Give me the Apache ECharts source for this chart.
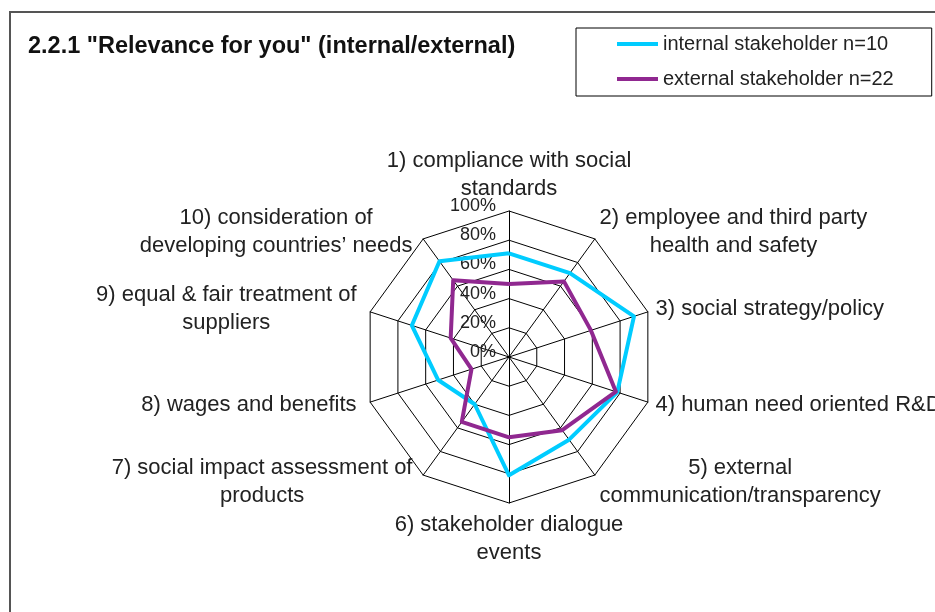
<!DOCTYPE html>
<html>
<head>
<meta charset="utf-8">
<script src="https://cdn.jsdelivr.net/npm/echarts@6/dist/echarts.min.js"></script>
<style>
html,body{margin:0;padding:0;background:#fff;}
#c{width:935px;height:612px;}
</style>
</head>
<body>
<div id="c"></div>
<script>
var categories = [
  "1) compliance with social\nstandards",
  "2) employee and third party\nhealth and safety",
  "3) social strategy/policy",
  "4) human need oriented R&D",
  "5) external\ncommunication/transparency",
  "6) stakeholder dialogue\nevents",
  "7) social impact assessment of\nproducts",
  "8) wages and benefits",
  "9) equal & fair treatment of\nsuppliers",
  "10) consideration of\ndeveloping countries\u2019 needs"
];
var seriesNames = ["internal stakeholder n=10", "external stakeholder n=22"];
var internalValues = [71, 71, 90, 78, 70, 81, 40, 51, 70, 81];
var externalValues = [50, 64, 59, 77, 62, 55, 55, 27, 42, 65];
var tickValues = [0, 20, 40, 60, 80, 100];

// ECharts radar runs counter-clockwise; reorder so the categories run clockwise
var order = [0].concat(categories.map(function (_, i) { return i; }).slice(1).reverse());
function reorder(arr) { return order.map(function (i) { return arr[i]; }); }
// categories on the left half get a little more room from the web
var leftSide = {};
categories.slice(6).forEach(function (c) { leftSide[c] = true; });

var FONT = "'Liberation Sans', Arial, Helvetica, sans-serif";
var chart = echarts.init(document.getElementById('c'), null, {renderer: 'canvas'});

var option = {
  backgroundColor: '#ffffff',
  animation: false,
  textStyle: {fontFamily: FONT},
  title: {
    text: '2.2.1 "Relevance for you" (internal/external)',
    left: 23, top: 30,
    textStyle: {fontSize: 23.5, fontWeight: 'bold', color: '#111', fontFamily: FONT}
  },
  legend: {
    data: seriesNames,
    orient: 'vertical',
    left: 576, top: 28,
    padding: [6, 38, 7, 41],
    itemGap: 15,
    itemWidth: 41, itemHeight: 4,
    icon: 'rect',
    borderColor: '#000', borderWidth: 1,
    textStyle: {fontSize: 20, color: '#222', fontFamily: FONT}
  },
  graphic: [{
    type: 'rect', silent: true,
    shape: {x: 10, y: 12, width: 1200, height: 900},
    style: {fill: 'none', stroke: '#555', lineWidth: 2}
  }],
  grid: {left: 509, top: 206, width: 1, height: 146, containLabel: false},
  xAxis: {type: 'value', show: false},
  yAxis: {
    type: 'value', min: tickValues[0], max: tickValues[tickValues.length - 1], interval: 20,
    axisLine: {show: false}, axisTick: {show: false}, splitLine: {show: false},
    axisLabel: {formatter: '{value}%', margin: 13, fontSize: 18, color: '#222', fontFamily: FONT}
  },
  radar: {
    center: [509, 357],
    radius: 146,
    startAngle: 90,
    shape: 'polygon',
    splitNumber: 5,
    nameGap: 8,
    indicator: reorder(categories).map(function (c) { return {name: c, min: 0, max: 100}; }),
    axisName: {
      color: '#222', fontSize: 22, fontFamily: FONT,
      formatter: function (n) {
        var key = leftSide[n] ? 'l' : 'c';
        return n.split('\n').map(function (l) { return '{' + key + '|' + l + '}'; }).join('\n');
      },
      rich: {
        c: {align: 'center', fontSize: 22, lineHeight: 28, color: '#222', fontFamily: FONT},
        l: {align: 'center', fontSize: 22, lineHeight: 28, color: '#222', fontFamily: FONT, padding: [0, 6, 0, 0]}
      }
    },
    splitLine: {lineStyle: {color: '#000', width: 1}},
    splitArea: {show: false},
    axisLine: {lineStyle: {color: '#000', width: 1}},
    axisTick: {show: false},
    axisLabel: {show: false}
  },
  series: [{
    type: 'radar',
    symbol: 'none',
    data: [
      {name: seriesNames[0], value: reorder(internalValues), lineStyle: {color: '#00CCFF', width: 4}, itemStyle: {color: '#00CCFF'}},
      {name: seriesNames[1], value: reorder(externalValues), lineStyle: {color: '#902890', width: 4}, itemStyle: {color: '#902890'}}
    ]
  }]
};
chart.setOption(option);
</script>
</body>
</html>
